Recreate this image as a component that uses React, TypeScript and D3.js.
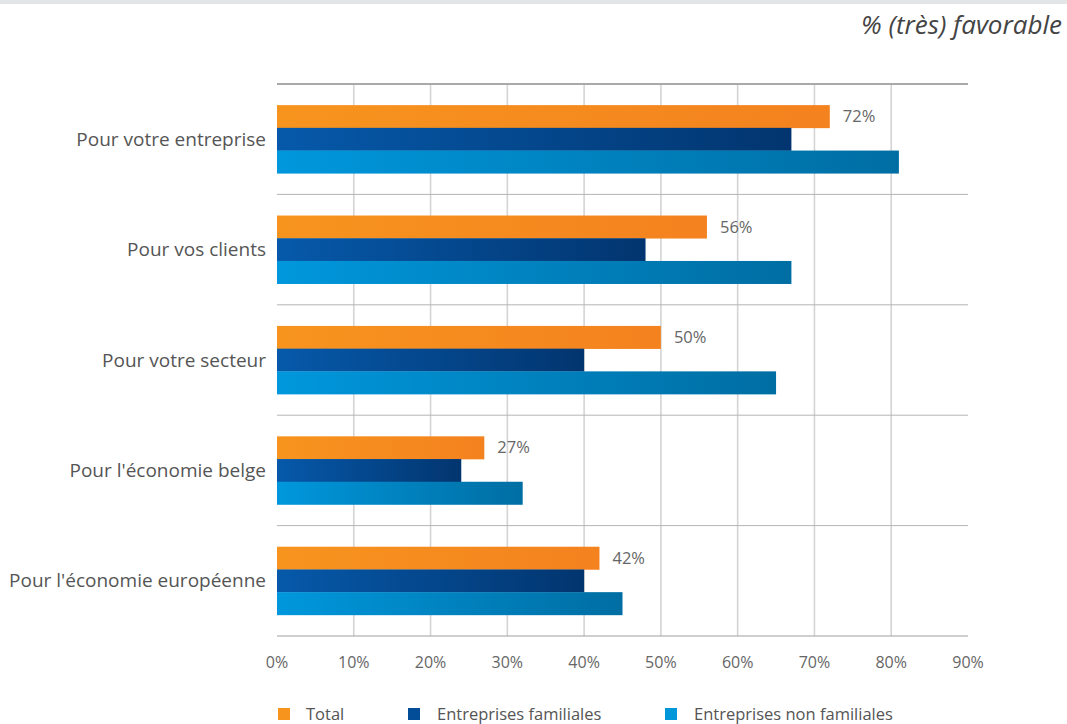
import React from "react";
import * as d3 from "d3";

const categories = [
  "Pour votre entreprise",
  "Pour vos clients",
  "Pour votre secteur",
  "Pour l'économie belge",
  "Pour l'économie européenne",
];
const totalValues = [72, 56, 50, 27, 42];
const familialesValues = [67, 48, 40, 24, 40];
const nonFamilialesValues = [81, 67, 65, 32, 45];
const seriesNames = ["Total", "Entreprises familiales", "Entreprises non familiales"];
const xTicks = [0, 10, 20, 30, 40, 50, 60, 70, 80, 90];

const W = 1067;
const H = 724;
const FONT = "'Open Sans', sans-serif";

const gradients = [
  { id: "gTotal", from: "#f7941e", to: "#f4821f", legend: "#f7941e" },
  { id: "gFam", from: "#0659aa", to: "#02356f", legend: "#034c97" },
  { id: "gNon", from: "#0097dc", to: "#006ea3", legend: "#0096da" },
];

export default function App() {
  const x = d3.scaleLinear().domain([0, 90]).range([277, 968]);
  const y = d3.scaleBand<string>().domain(categories).range([84, 636]);
  const inner = d3
    .scaleBand<number>()
    .domain([0, 1, 2])
    .range([0, y.bandwidth()])
    .paddingInner(0)
    .paddingOuter(0.93);

  const series = [totalValues, familialesValues, nonFamilialesValues];

  return (
    <svg
      width={W}
      height={H}
      style={{ position: "absolute", left: 0, top: 0, background: "#fff" }}
      fontFamily={FONT}
    >
      <defs>
        {gradients.map((g) => (
          <linearGradient key={g.id} id={g.id} x1="0" x2="1" y1="0" y2="0">
            <stop offset="0%" stopColor={g.from} />
            <stop offset="100%" stopColor={g.to} />
          </linearGradient>
        ))}
      </defs>
      <rect x={0} y={0} width={W} height={4} fill="#e4e5e9" />
      <text
        x={1062}
        y={34}
        textAnchor="end"
        fontSize={26}
        fontStyle="italic"
        fill="#444"
      >
        % (très) favorable
      </text>

      {/* vertical gridlines */}
      {xTicks.slice(1, -1).map((t) => (
        <line
          key={t}
          x1={x(t)}
          x2={x(t)}
          y1={84}
          y2={636}
          stroke="#d4d4d4"
          strokeWidth={1.6}
        />
      ))}

      {/* horizontal separators */}
      {categories.map((c, i) => (
        <line
          key={c}
          x1={277}
          x2={968}
          y1={y(c)!}
          y2={y(c)!}
          stroke={i === 0 ? "#a9a9a9" : "#b5b5b5"}
          strokeWidth={i === 0 ? 2 : 1}
        />
      ))}
      <line x1={277} x2={968} y1={636} y2={636} stroke="#a0a0a0" strokeWidth={1.2} />

      {/* bars */}
      {categories.map((c, ci) => (
        <g key={c} transform={`translate(0,${y(c)})`}>
          {series.map((vals, si) => (
            <rect
              key={si}
              x={x(0)}
              y={inner(si)!}
              width={x(vals[ci]) - x(0)}
              height={inner.bandwidth() + 0.3}
              fill={`url(#${gradients[si].id})`}
            />
          ))}
          <text
            x={x(totalValues[ci]) + 13}
            y={inner(0)! + inner.bandwidth() / 2}
            dy="0.35em"
            fontSize={16.5}
            fill="#666"
          >
            {totalValues[ci]}%
          </text>
          <text
            x={266}
            y={y.bandwidth() / 2}
            dy="0.35em"
            textAnchor="end"
            fontSize={19}
            fill="#555"
          >
            {c}
          </text>
        </g>
      ))}

      {/* x tick labels */}
      {xTicks.map((t) => (
        <text
          key={t}
          x={x(t)}
          y={668}
          textAnchor="middle"
          fontSize={16}
          fill="#666"
        >
          {t}%
        </text>
      ))}

      {/* legend */}
      {[
        { sx: 278, tx: 306 },
        { sx: 408, tx: 437 },
        { sx: 665, tx: 694 },
      ].map((p, i) => (
        <g key={i}>
          <rect x={p.sx} y={708} width={12} height={12} fill={gradients[i].legend} />
          <text x={p.tx} y={720} fontSize={16.5} fill="#555">
            {seriesNames[i]}
          </text>
        </g>
      ))}
    </svg>
  );
}
